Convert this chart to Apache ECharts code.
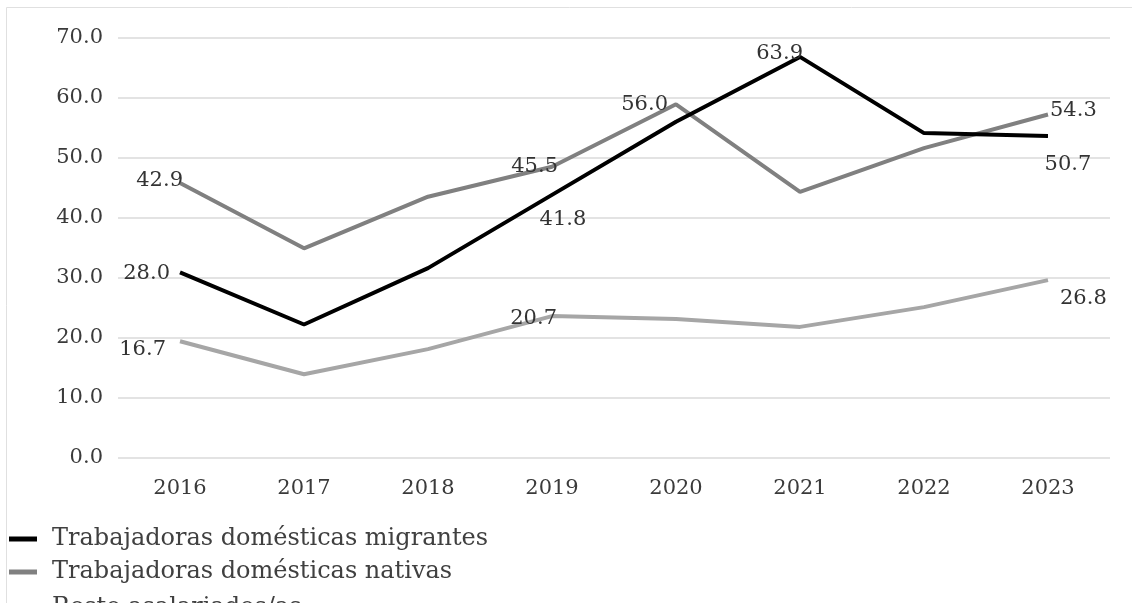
<!DOCTYPE html>
<html><head><meta charset="utf-8">
<script src="https://cdn.jsdelivr.net/npm/echarts@6/dist/echarts.min.js"></script>
<style>html,body{margin:0;padding:0;background:#fff}#c{width:1132px;height:603px}</style>
</head><body><div id="c"></div>
<script>
var categories = ['2016','2017','2018','2019','2020','2021','2022','2023'];
var migrantes = [30.9, 22.2, 31.6, 43.8, 56.0, 66.8, 54.1, 53.6];
var nativas   = [45.8, 34.9, 43.5, 48.5, 58.9, 44.3, 51.6, 57.2];
var resto     = [19.4, 13.9, 18.1, 23.6, 23.1, 21.8, 25.1, 29.6];
var labelsMigrantes = ['28.0', null, null, '41.8', null, '63.9', null, '50.7'];
var labelsNativas   = ['42.9', null, null, '45.5', '56.0', null, null, '54.3'];
var labelsResto     = ['16.7', null, null, '20.7', null, null, null, '26.8'];
var seriesNames = ['Trabajadoras domésticas migrantes','Trabajadoras domésticas nativas','Resto asalariados/as'];
var yTicks = { min: 0, max: 70, interval: 10 };

var FONT = 'DejaVu Serif';
// label placement styles per series per point index
var placeM = {0:{position:'left',offset:[-4,1]},3:{position:'bottom',offset:[11,8]},5:{position:'left',offset:[9,-3]},7:{position:'bottom',offset:[20,12]}};
var placeN = {0:{position:'left',offset:[9,-2]},3:{position:'left',offset:[12,0]},4:{position:'left',offset:[-2,0]},7:{position:'right',offset:[-4,-4]}};
var placeR = {0:{position:'left',offset:[-8,8]},3:{position:'left',offset:[11,2]},7:{position:'right',offset:[6,18]}};

function build(vals, labs, place){
  return vals.map(function(v,i){
    var item = {value: v};
    if (labs[i]) {
      var p = place[i] || {position:'top',offset:[0,0]};
      item.label = {show:true, formatter: labs[i], position: p.position, offset: p.offset, distance: 6,
        fontFamily: FONT, fontSize: 21, color: '#333333'};
    } else {
      item.label = {show:false};
    }
    return item;
  });
}
function lineSeries(name, vals, labs, place, color, z){
  return {name:name, type:'line', data: build(vals, labs, place), showSymbol:true, symbol:'circle', symbolSize:0,
    lineStyle:{color:color, width:4}, itemStyle:{color:color}, z:z, animation:false,
    emphasis:{disabled:true}};
}
function legendAt(name, top){
  return {orient:'vertical', left:4, top:top, itemWidth:28, itemHeight:5, icon:'rect',
    textStyle:{fontFamily:FONT, fontSize:24, color:'#404040', padding:[0,0,0,10]},
    data:[name], selectedMode:false};
}
var chart = echarts.init(document.getElementById('c'));
chart.setOption({
  animation:false,
  backgroundColor:'#fff',
  graphic:[{type:'rect', shape:{x:6.5,y:7.5,width:1140,height:620}, style:{fill:'none', stroke:'#e0e0e0', lineWidth:1}, silent:true}],
  grid:{left:118, right:22, top:37.7, bottom:145.3, containLabel:false},
  xAxis:{type:'category', data:categories, boundaryGap:true,
    axisLine:{show:false}, axisTick:{show:false},
    axisLabel:{fontFamily:FONT, fontSize:21, color:'#3a3a3a', margin:20}},
  yAxis:{type:'value', min:yTicks.min, max:yTicks.max, interval:yTicks.interval,
    axisLine:{show:false}, axisTick:{show:false},
    splitLine:{lineStyle:{color:'#e3e3e3', width:2}},
    axisLabel:{fontFamily:FONT, fontSize:21, color:'#3a3a3a', margin:15,
      formatter:function(v){return v.toFixed(1);}}},
  legend:[legendAt(seriesNames[0], 522), legendAt(seriesNames[1], 555), legendAt(seriesNames[2], 591)],
  series:[
    lineSeries(seriesNames[0], migrantes, labelsMigrantes, placeM, '#000000', 5),
    lineSeries(seriesNames[1], nativas, labelsNativas, placeN, '#808080', 4),
    lineSeries(seriesNames[2], resto, labelsResto, placeR, '#a6a6a6', 3)
  ]
});
</script></body></html>
